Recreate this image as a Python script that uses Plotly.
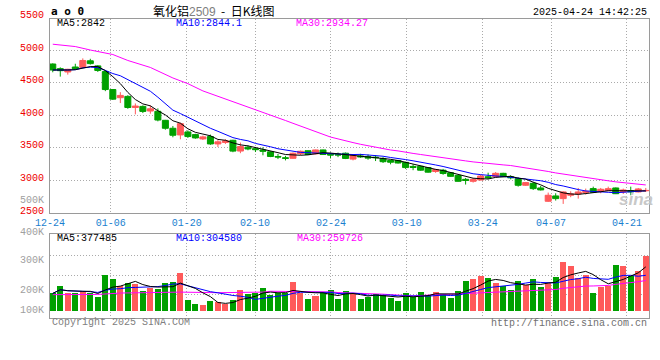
import plotly.graph_objects as go
import pandas as pd

# ---------------- data ----------------
dates = ["12-24", "12-25", "12-26", "12-27", "12-30", "12-31",
         "01-02", "01-03", "01-06", "01-07", "01-08", "01-09", "01-10",
         "01-13", "01-14", "01-15", "01-16", "01-17", "01-20", "01-21", "01-22", "01-23", "01-24", "01-27",
         "02-05", "02-06", "02-07", "02-10", "02-11", "02-12", "02-13", "02-14",
         "02-17", "02-18", "02-19", "02-20", "02-21", "02-24", "02-25", "02-26", "02-27", "02-28",
         "03-03", "03-04", "03-05", "03-06", "03-07", "03-10", "03-11", "03-12", "03-13", "03-14",
         "03-17", "03-18", "03-19", "03-20", "03-21", "03-24", "03-25", "03-26", "03-27", "03-28", "03-31",
         "04-01", "04-02", "04-03", "04-07", "04-08", "04-09", "04-10", "04-11",
         "04-14", "04-15", "04-16", "04-17", "04-18", "04-21", "04-22", "04-23", "04-24"]

open_ = [4786, 4715, 4664, 4740, 4733, 4835, 4757, 4670, 4395, 4270,
         4290, 4120, 4137, 4066, 4062, 3924, 3802, 3700, 3746, 3705,
         3639, 3675, 3562, 3585, 3618, 3453, 3513, 3490, 3470, 3441,
         3370, 3350, 3342, 3412, 3458, 3410, 3470, 3408, 3405, 3420,
         3330, 3378, 3368, 3360, 3340, 3308, 3308, 3280, 3218, 3220,
         3200, 3140, 3160, 3121, 3081, 3020, 2990, 3010, 3060, 3061,
         3112, 3060, 3031, 2929, 2959, 2888, 2684, 2766, 2725, 2776,
         2796, 2817, 2878, 2837, 2847, 2888, 2827, 2847, 2827, 2845]
high = [4796, 4735, 4712, 4790, 4872, 4866, 4766, 4688, 4400, 4355,
        4308, 4182, 4152, 4150, 4106, 3930, 3837, 3888, 3770, 3718,
        3690, 3705, 3620, 3635, 3625, 3583, 3540, 3515, 3510, 3450,
        3408, 3380, 3430, 3460, 3462, 3475, 3475, 3430, 3430, 3430,
        3400, 3410, 3400, 3390, 3360, 3320, 3318, 3288, 3250, 3228,
        3205, 3180, 3180, 3130, 3088, 3041, 3041, 3092, 3122, 3132,
        3120, 3081, 3051, 2980, 2980, 2919, 2817, 2807, 2837, 2837,
        2888, 2878, 2908, 2888, 2908, 2895, 2878, 2908, 2888, 2888]
low = [4659, 4593, 4623, 4700, 4725, 4777, 4665, 4370, 4235, 4188,
       4100, 4015, 4035, 4025, 3908, 3780, 3664, 3633, 3654, 3642,
       3622, 3548, 3515, 3562, 3435, 3420, 3465, 3438, 3388, 3360,
       3330, 3310, 3335, 3390, 3395, 3405, 3395, 3340, 3360, 3330,
       3310, 3350, 3320, 3300, 3270, 3250, 3262, 3180, 3160, 3152,
       3122, 3120, 3090, 3058, 2985, 2940, 2970, 3005, 3020, 3051,
       3055, 3020, 2908, 2919, 2857, 2850, 2674, 2695, 2644, 2746,
       2725, 2786, 2817, 2807, 2840, 2795, 2796, 2776, 2820, 2827]
close = [4694, 4684, 4705, 4712, 4840, 4792, 4686, 4395, 4248, 4305,
         4120, 4142, 4060, 4100, 3928, 3802, 3695, 3873, 3675, 3654,
         3670, 3562, 3594, 3610, 3452, 3522, 3485, 3475, 3450, 3370,
         3362, 3342, 3420, 3450, 3400, 3470, 3400, 3392, 3393, 3340,
         3390, 3365, 3345, 3352, 3290, 3282, 3270, 3200, 3203, 3160,
         3130, 3170, 3110, 3066, 2990, 3002, 3020, 3071, 3045, 3112,
         3061, 3045, 2929, 2970, 2878, 2858, 2776, 2725, 2827, 2796,
         2827, 2837, 2822, 2868, 2877, 2800, 2857, 2830, 2873, 2850]
volume = [149000, 212000, 155000, 149000, 169000, 149000, 118000, 307000, 273000, 212000,
          238000, 232000, 169000, 192000, 187000, 238000, 247000, 324000, 92000, 57000,
          49000, 83000, 72000, 55000, 92000, 178000, 144000, 152000, 195000, 132000,
          149000, 149000, 247000, 149000, 100000, 126000, 149000, 178000, 100000, 169000,
          144000, 100000, 118000, 144000, 135000, 109000, 83000, 152000, 118000, 161000,
          135000, 161000, 144000, 109000, 169000, 255000, 273000, 298000, 281000, 238000,
          212000, 178000, 255000, 221000, 273000, 204000, 238000, 290000, 423000, 388980,
          283375, 307000, 152000, 204000, 212000, 393000, 385000, 298000, 342000, 469425]

# MA30 readings before a full 30-day window exists
price_ma30_head_idx = [0, 3, 5, 8, 10, 13, 16, 18, 20, 23, 25, 28]
price_ma30_head_val = [5089, 5053, 5000, 4931, 4840, 4733, 4572, 4485, 4374, 4252, 4175, 4050]
vol_ma30_head_idx = [0, 6, 9, 17, 22, 28]
vol_ma30_head_val = [138000, 140000, 152000, 160000, 155000, 160000]

tick_dates = ["12-24", "01-06", "01-20", "02-10", "02-24", "03-10", "03-24", "04-07", "04-21"]
price_tick_labels = ["2500", "3000", "3500", "4000", "4500", "5000", "5500"]
vol_tick_labels = ["100K", "200K", "300K", "400K", "500K"]

title_name = "氧化铝"
title_code = "2509"
title_kind = "日K线图"
timestamp = "2025-04-24 14:42:25"
legend_price = ["MA5:2842", "MA10:2844.1", "MA30:2934.27"]
legend_vol = ["MA5:377485", "MA10:304580", "MA30:259726"]

# ---------------- derived ----------------
idx = list(range(len(dates)))
cs = pd.Series(close, dtype=float)
vs = pd.Series(volume, dtype=float)
ma5 = cs.rolling(5, min_periods=1).mean()
ma10 = cs.rolling(10, min_periods=1).mean()
ma30_full = cs.rolling(30).mean()
vma5 = vs.rolling(5, min_periods=1).mean()
vma10 = vs.rolling(10, min_periods=1).mean()
vma30_full = vs.rolling(30).mean()

ma30_x = price_ma30_head_idx + idx[29:]
ma30_y = price_ma30_head_val + list(ma30_full[29:])
vma30_x = vol_ma30_head_idx + idx[29:]
vma30_y = vol_ma30_head_val + list(vma30_full[29:])

RED = "#ff5a5a"
GREEN = "#00a000"
BLUE_TXT = "#1a7fcf"
MONO = "Liberation Mono"
GRID = "#aaaaaa"
FRAME = "#9a9a9a"

bar_colors = [RED if c >= o else GREEN for o, c in zip(open_, close)]

W, H = 660, 360
L, R, T, B = 50, 11, 19, 42
PH = H - T - B
PW = W - L - R
YR = [2500, 5475]


def py(px):  # pixel y -> paper y
    return (H - B - px) / PH


def pxx(px):  # pixel x -> paper x
    return (px - L) / PW


main_bottom = py(213.3)
vol_top = py(234)


def price_paper(v):
    return main_bottom + (v - YR[0]) / (YR[1] - YR[0]) * (1 - main_bottom)


fig = go.Figure()
fig.add_trace(go.Candlestick(
    x=idx, open=open_, high=high, low=low, close=close,
    increasing=dict(line=dict(color=RED, width=1), fillcolor=RED),
    decreasing=dict(line=dict(color=GREEN, width=1), fillcolor=GREEN),
    whiskerwidth=0, showlegend=False, xaxis="x", yaxis="y"))
fig.add_trace(go.Scatter(x=ma30_x, y=ma30_y, mode="lines", line=dict(color="#ff00ff", width=1),
                         showlegend=False, xaxis="x", yaxis="y"))
fig.add_trace(go.Scatter(x=idx, y=ma10, mode="lines", line=dict(color="#0000ff", width=1),
                         showlegend=False, xaxis="x", yaxis="y"))
fig.add_trace(go.Scatter(x=idx, y=ma5, mode="lines", line=dict(color="#000000", width=1),
                         showlegend=False, xaxis="x", yaxis="y"))

fig.add_trace(go.Bar(x=idx, y=volume, marker=dict(color=bar_colors, line=dict(width=0)), width=0.8,
                     showlegend=False, xaxis="x2", yaxis="y2"))
fig.add_trace(go.Scatter(x=vma30_x, y=vma30_y, mode="lines", line=dict(color="#ff00ff", width=1),
                         showlegend=False, xaxis="x2", yaxis="y2"))
fig.add_trace(go.Scatter(x=idx, y=vma10, mode="lines", line=dict(color="#0000ff", width=1),
                         showlegend=False, xaxis="x2", yaxis="y2"))
fig.add_trace(go.Scatter(x=idx, y=vma5, mode="lines", line=dict(color="#000000", width=1),
                         showlegend=False, xaxis="x2", yaxis="y2"))

# grid positions for the date ticks (chart's own grid spacing)
tick_x = [-0.36 + dates.index(d) * 1.0112 for d in tick_dates]
xr = [-0.37, 79.43]

common_x = dict(range=xr, tickvals=tick_x, showgrid=True, gridcolor=GRID, griddash="1px,2px",
                gridwidth=1, showline=True, mirror=True, linecolor=FRAME, linewidth=1,
                ticks="", zeroline=False, fixedrange=True)

fig.update_layout(
    width=W, height=H, margin=dict(l=L, r=R, t=T, b=B),
    paper_bgcolor="white", plot_bgcolor="white",
    boxgap=0.2, boxgroupgap=0, bargap=0,
    showlegend=False,
    xaxis=dict(common_x, domain=[0, 1], anchor="y", ticktext=tick_dates, showticklabels=True,
               tickfont=dict(family=MONO, size=10, color=BLUE_TXT), rangeslider=dict(visible=False)),
    yaxis=dict(domain=[main_bottom, 1], range=YR, tickvals=[3000, 3500, 4000, 4500, 5000],
               showticklabels=False, showgrid=True, gridcolor=GRID, griddash="1px,2px",
               showline=True, mirror=True, linecolor=FRAME, linewidth=1, ticks="", zeroline=False),
    xaxis2=dict(common_x, domain=[0, 1], anchor="y2", showticklabels=False),
    yaxis2=dict(domain=[0, vol_top], range=[-62900, 660400], tickvals=[135200, 307400, 473500],
                showticklabels=False, showgrid=True, gridcolor=GRID, griddash="1px,2px",
                showline=True, mirror=True, linecolor=FRAME, linewidth=1, ticks="", zeroline=False),
)

ann = []
# price axis labels
for lab in price_tick_labels:
    ann.append(dict(x=pxx(46), xref="paper", y=price_paper(float(lab)), yref="paper", text=lab,
                    showarrow=False, xanchor="right", yanchor="middle", yshift=2,
                    font=dict(family=MONO, size=10, color="#ee0000")))
# volume axis labels
vol_label_px = [310.5, 290.5, 260, 232, 200.5]
for lab, ypx in zip(vol_tick_labels, vol_label_px):
    ann.append(dict(x=pxx(46), xref="paper", y=py(ypx), yref="paper", text=lab, showarrow=False,
                    xanchor="right", yanchor="middle",
                    font=dict(family=MONO, size=10, color="#a0a0a0")))
# legends
for txt, xpx, col in zip(legend_price, [55, 174, 294], ["#000000", "#0000ff", "#ff00ff"]):
    ann.append(dict(x=pxx(xpx), xref="paper", y=py(24), yref="paper", text=txt, showarrow=False,
                    xanchor="left", yanchor="middle", font=dict(family=MONO, size=10, color=col)))
for txt, xpx, col in zip(legend_vol, [55, 174, 295], ["#000000", "#0000ff", "#ff00ff"]):
    ann.append(dict(x=pxx(xpx), xref="paper", y=py(238.3), yref="paper", text=txt, showarrow=False,
                    xanchor="left", yanchor="middle", font=dict(family=MONO, size=10, color=col)))
# title row
ann.append(dict(x=pxx(49), xref="paper", y=py(11), yref="paper", text="<b>a o 0</b>", showarrow=False,
                xanchor="left", yanchor="middle", font=dict(family="DejaVu Sans Mono", size=11, color="#000000")))
ann.append(dict(x=pxx(151), xref="paper", y=py(10.5), yref="paper",
                text=(title_name + '<span style="color:#808080;font-family:Liberation Sans">' + title_code
                      + "</span>&nbsp;&nbsp;-&nbsp;&nbsp;" + title_kind),
                showarrow=False, xanchor="left", yanchor="middle",
                font=dict(family="Noto Sans CJK SC", size=12, color="#000000")))
ann.append(dict(x=pxx(649), xref="paper", y=py(12.3), yref="paper", text=timestamp, showarrow=False,
                xanchor="right", yanchor="middle", font=dict(family=MONO, size=10, color="#000000")))
# footer
ann.append(dict(x=pxx(50), xref="paper", y=py(322.7), yref="paper", text="Copyright 2025 SINA.COM",
                showarrow=False, xanchor="left", yanchor="middle",
                font=dict(family=MONO, size=10, color="#808080")))
ann.append(dict(x=pxx(649), xref="paper", y=py(323.3), yref="paper", text="http://finance.sina.com.cn",
                showarrow=False, xanchor="right", yanchor="middle",
                font=dict(family=MONO, size=10, color="#707070")))
# watermark
ann.append(dict(x=pxx(636), xref="paper", y=py(199), yref="paper", text="<b><i>sina</i></b>",
                showarrow=False, xanchor="center", yanchor="middle",
                font=dict(family="Liberation Sans", size=17, color="#c8c8c8")))

fig.update_layout(annotations=ann)
fig.write_html("out.html", config={"displayModeBar": False},
               post_script="document.body.style.margin='0px';document.body.style.overflow='hidden';")
